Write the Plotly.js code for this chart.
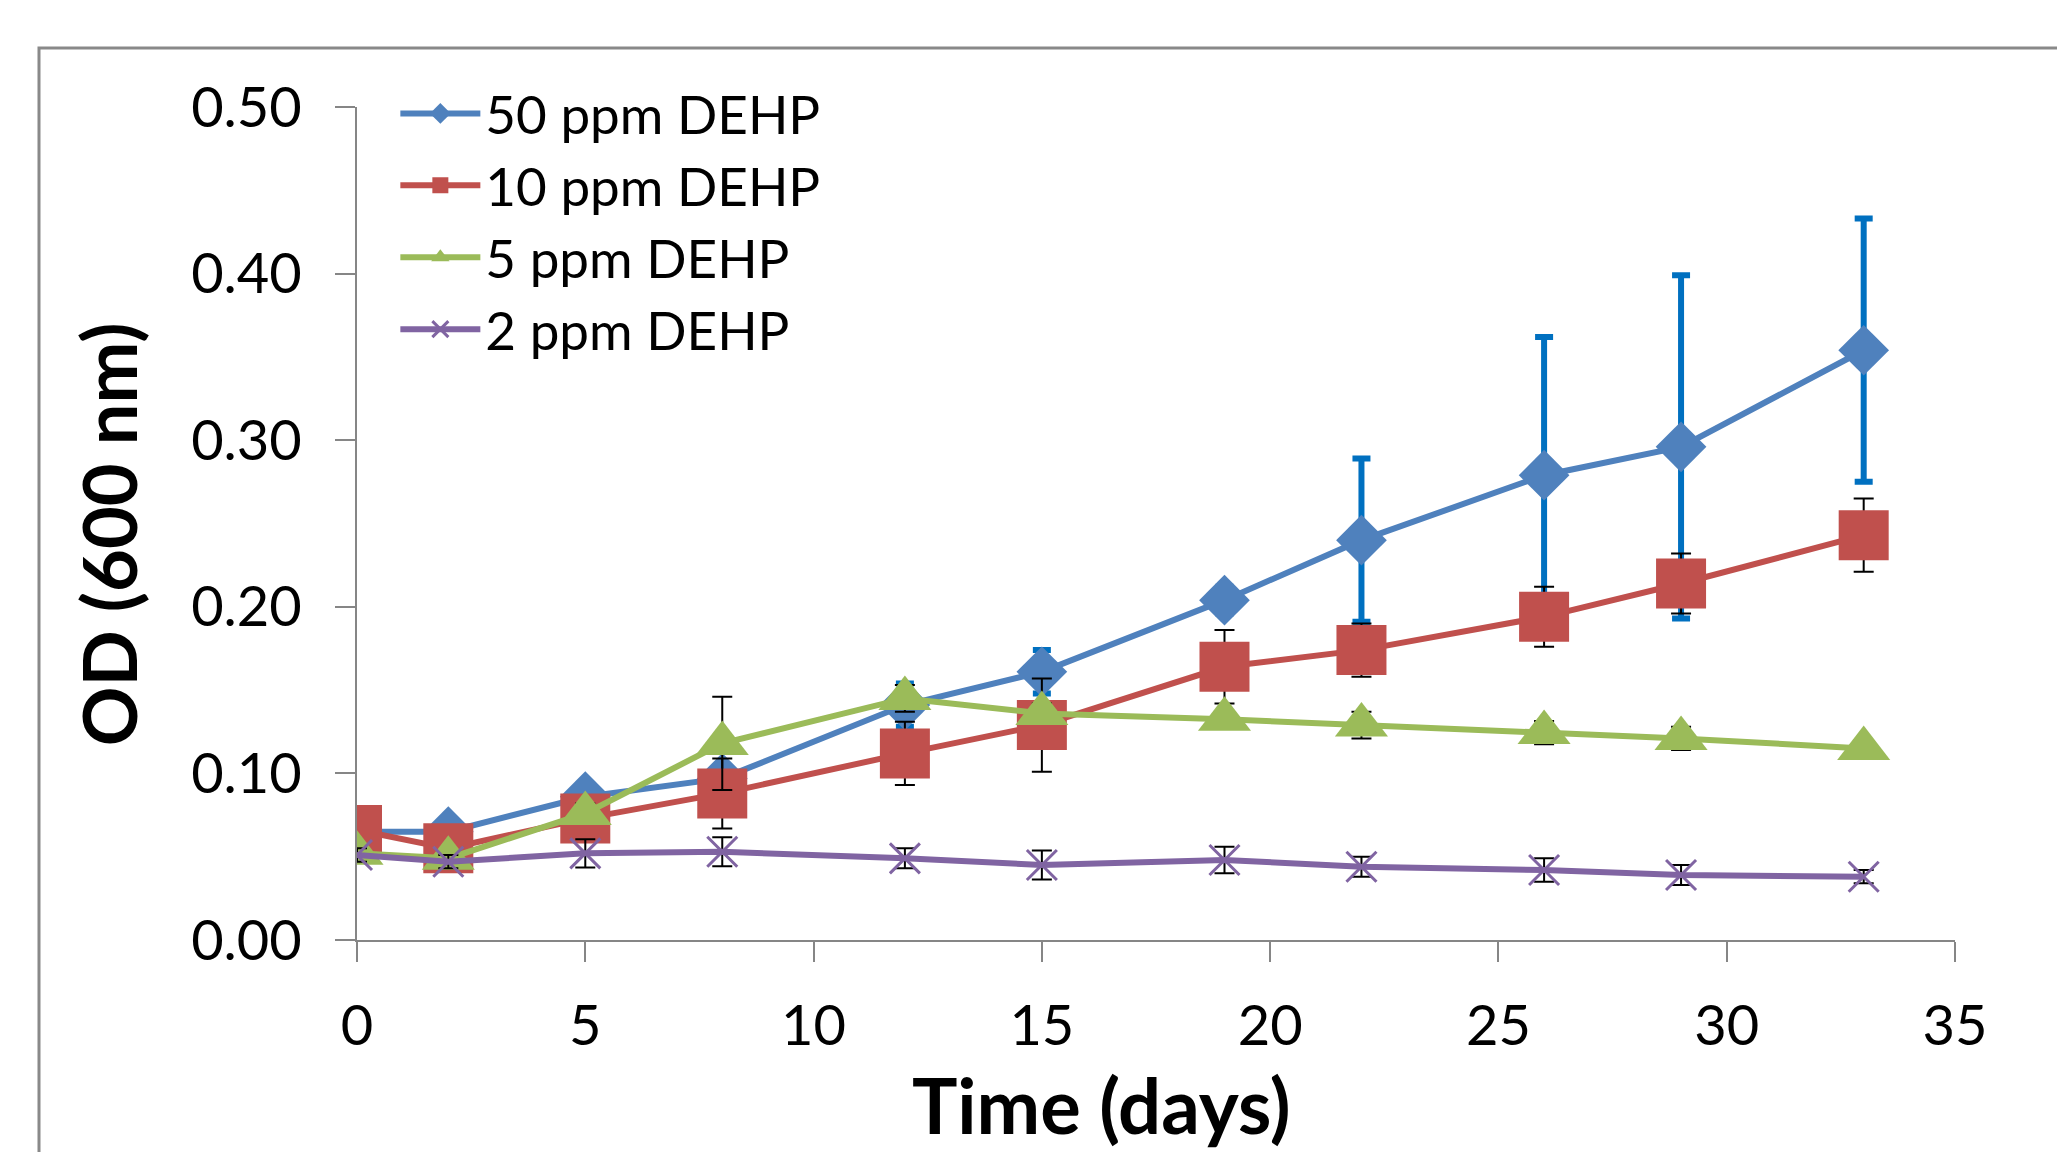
<!DOCTYPE html>
<html>
<head>
<meta charset="utf-8">
<script src="https://cdn.plot.ly/plotly-3.0.1.min.js"></script>
<style>html,body{margin:0;padding:0;background:#fff;}#chart{width:2057px;height:1152px;}</style>
</head>
<body>
<div id="chart"></div>
<script>
const days = [0, 2, 5, 8, 12, 15, 19, 22, 26, 29, 33];
const seriesNames = ['50 ppm DEHP', '10 ppm DEHP', '5 ppm DEHP', '2 ppm DEHP'];
const od50 = [0.065, 0.065, 0.086, 0.097, 0.141, 0.161, 0.204, 0.240, 0.279, 0.296, 0.354];
const err50 = [0.003, 0.004, 0.006, 0.005, 0.013, 0.013, 0.008, 0.049, 0.083, 0.103, 0.079];
const od10 = [0.066, 0.055, 0.073, 0.088, 0.112, 0.129, 0.164, 0.174, 0.194, 0.214, 0.243];
const err10 = [0.005, 0.004, 0.005, 0.021, 0.019, 0.028, 0.022, 0.016, 0.018, 0.018, 0.022];
const od5 = [0.052, 0.049, 0.076, 0.118, 0.145, 0.136, 0.1325, 0.129, 0.1245, 0.121, 0.115];
const err5 = [0.004, 0.004, 0.006, 0.028, 0.008, 0.006, 0.005, 0.008, 0.007, 0.007, 0.005];
const od2 = [0.051, 0.047, 0.052, 0.053, 0.049, 0.045, 0.048, 0.044, 0.042, 0.039, 0.038];
const err2 = [0.004, 0.004, 0.0085, 0.0087, 0.006, 0.0087, 0.008, 0.006, 0.007, 0.006, 0.004];
const yTicks = [0, 0.1, 0.2, 0.3, 0.4, 0.5];
const xTicks = [0, 5, 10, 15, 20, 25, 30, 35];
const xTitle = 'Time (days)';
const yTitle = 'OD (600 nm)';

const FONT = 'Lato, "Open Sans", sans-serif';
const blackErr = (arr) => ({type: 'data', array: arr, visible: true, color: '#000000', thickness: 2, width: 10});

const traces = [
  {x: days, y: od50, name: seriesNames[0], mode: 'lines+markers',
   line: {color: '#4F81BD', width: 6},
   marker: {symbol: 'diamond', size: 39, color: '#4F81BD'},
   error_y: {type: 'data', array: err50, visible: true, color: '#0070C0', thickness: 6, width: 9}},
  {x: days, y: od10, name: seriesNames[1], mode: 'lines+markers',
   line: {color: '#C0504D', width: 6},
   marker: {symbol: 'square', size: 50, color: '#C0504D'},
   error_y: blackErr(err10)},
  {x: days, y: od5, name: seriesNames[2], mode: 'lines+markers',
   line: {color: '#9BBB59', width: 6},
   marker: {symbol: 'triangle-up', size: 46, color: '#9BBB59'},
   error_y: blackErr(err5)},
  {x: days, y: od2, name: seriesNames[3], mode: 'lines+markers',
   line: {color: '#8064A2', width: 6},
   marker: {symbol: 'x-thin-open', size: 30, color: '#8064A2', line: {color: '#8064A2', width: 3}},
   error_y: blackErr(err2)}
];

const layout = {
  width: 2057, height: 1152,
  margin: {l: 357, r: 102, t: 107, b: 212},
  paper_bgcolor: '#ffffff', plot_bgcolor: '#ffffff',
  font: {family: FONT, size: 55, color: '#000000'},
  showlegend: true,
  legend: {x: 0.024, y: 1.0414, xanchor: 'left', yanchor: 'top', bgcolor: 'rgba(0,0,0,0)',
           font: {family: FONT, size: 53, color: '#000000'}, itemwidth: 80, tracegroupgap: 0},
  xaxis: {
    range: [0, 35], tickvals: xTicks, ticktext: xTicks.map(String),
    showgrid: false, zeroline: false, showline: true, linecolor: '#868686', linewidth: 2,
    ticks: 'outside', ticklen: 20, tickwidth: 2, tickcolor: '#868686', ticklabelstandoff: 16,
    tickfont: {family: FONT, size: 56, color: '#000'}
  },
  yaxis: {
    range: [0, 0.5], tickvals: yTicks, ticktext: yTicks.map(v => v.toFixed(2)),
    showgrid: false, zeroline: false, showline: true, linecolor: '#868686', linewidth: 2,
    ticks: 'outside', ticklen: 20, tickwidth: 2, tickcolor: '#868686', ticklabelstandoff: 22,
    tickfont: {family: FONT, size: 56, color: '#000'}
  },
  annotations: [
    {text: xTitle, xref: 'paper', yref: 'paper', x: 0.466, y: -0.197, xanchor: 'center', yanchor: 'middle',
     showarrow: false, font: {family: FONT, size: 76, color: '#000', weight: 'bold'}},
    {text: yTitle, xref: 'paper', yref: 'paper', x: -0.1558, y: 0.487, xanchor: 'center', yanchor: 'middle',
     textangle: -90, showarrow: false, font: {family: FONT, size: 74, color: '#000', weight: 'bold'}}
  ],
  shapes: [
    {type: 'rect', xref: 'paper', yref: 'paper', x0: -0.199, x1: 1.2, y0: -0.4, y1: 1.0708,
     line: {color: '#898989', width: 3}, fillcolor: 'rgba(0,0,0,0)', layer: 'below'}
  ]
};

Plotly.newPlot('chart', traces, layout, {displayModeBar: false, staticPlot: true});
</script>
</body>
</html>
